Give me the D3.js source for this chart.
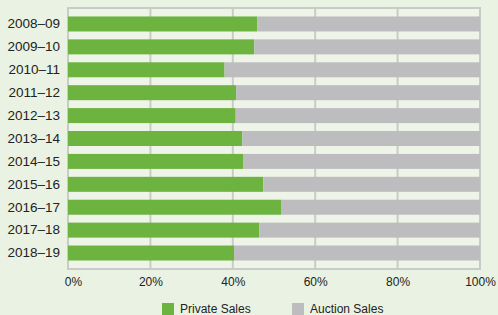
<!DOCTYPE html>
<html>
<head>
<meta charset="utf-8">
<script src="https://cdn.jsdelivr.net/npm/d3@7"></script>
<style>
  body { margin: 0; background: #eaf2e3; }
  svg { display: block; font-family: "Liberation Sans", Arial, sans-serif; }
</style>
</head>
<body>
<svg id="chart"></svg>
<script>
// share of sales by method, % per year
const years = ["2008–09", "2009–10", "2010–11", "2011–12", "2012–13", "2013–14",
  "2014–15", "2015–16", "2016–17", "2017–18", "2018–19"];
const privateSales = [45.9, 45.2, 38.0, 40.8, 40.7, 42.3, 42.6, 47.4, 51.7, 46.4, 40.3];
const auctionSales = [54.1, 54.8, 62.0, 59.2, 59.3, 57.7, 57.4, 52.6, 48.3, 53.6, 59.7];
const seriesNames = ["Private Sales", "Auction Sales"];
const xTicks = [0, 20, 40, 60, 80, 100];

const W = 498, H = 315;
const margin = { top: 8, right: 18, bottom: 46, left: 68 };
const width = W - margin.left - margin.right,
  height = H - margin.top - margin.bottom;

const rows = years.map((y, i) => ({
  year: y,
  "Private Sales": privateSales[i],
  "Auction Sales": auctionSales[i]
}));

const svg = d3.select("#chart")
  .attr("width", W)
  .attr("height", H);

const g = svg.append("g")
  .attr("transform", `translate(${margin.left},${margin.top})`);

const x = d3.scaleLinear().domain([0, 100]).range([0, width]);
const y = d3.scaleBand()
  .domain(years)
  .range([0, height])
  .paddingInner(0.345)
  .paddingOuter(0.37);

const color = d3.scaleOrdinal()
  .domain(seriesNames)
  .range(["#6cb33f", "#bdbdbf"]);

// plot background + gridlines
g.append("rect")
  .attr("width", width)
  .attr("height", height)
  .attr("fill", "#eef5e8");

g.selectAll(".grid")
  .data(xTicks)
  .enter()
  .append("line")
  .attr("x1", d => x(d))
  .attr("x2", d => x(d))
  .attr("y1", 0)
  .attr("y2", height)
  .attr("stroke", "#c9cbc8")
  .attr("stroke-width", 2);

// frame top/bottom
g.append("rect")
  .attr("width", width)
  .attr("height", height)
  .attr("fill", "none")
  .attr("stroke", "#c9cbc8")
  .attr("stroke-width", 2);

const stacked = d3.stack().keys(seriesNames)(rows);

g.selectAll(".layer")
  .data(stacked)
  .enter()
  .append("g")
  .attr("fill", d => color(d.key))
  .selectAll("rect")
  .data(d => d)
  .enter()
  .append("rect")
  .attr("x", d => x(d[0]))
  .attr("y", d => y(d.data.year))
  .attr("width", d => x(d[1]) - x(d[0]))
  .attr("height", y.bandwidth());

// x axis labels
const xAxis = g.append("g")
  .attr("transform", `translate(0,${height})`)
  .call(d3.axisBottom(x).tickValues(xTicks).tickFormat(d => d + "%").tickSize(0).tickPadding(8));
xAxis.select(".domain").remove();
xAxis.selectAll("text")
  .attr("font-size", 12)
  .attr("font-family", "Liberation Sans, Arial, sans-serif")
  .attr("fill", "#222");
xAxis.selectAll("text").filter(d => d === 0).attr("dx", 5);

// y axis labels
const yAxis = g.append("g")
  .call(d3.axisLeft(y).tickSize(0).tickPadding(8));
yAxis.select(".domain").remove();
yAxis.selectAll("text")
  .attr("font-size", 13.5)
  .attr("font-family", "Liberation Sans, Arial, sans-serif")
  .attr("fill", "#222");

// legend
const legendX = [162, 292];
const legend = svg.append("g");
seriesNames.forEach((name, i) => {
  legend.append("rect")
    .attr("x", legendX[i])
    .attr("y", 303)
    .attr("width", 12)
    .attr("height", 12)
    .attr("fill", color(name));
  legend.append("text")
    .attr("x", legendX[i] + 18)
    .attr("y", 313)
    .attr("font-size", 12)
    .attr("fill", "#222")
    .text(name);
});
</script>
</body>
</html>
